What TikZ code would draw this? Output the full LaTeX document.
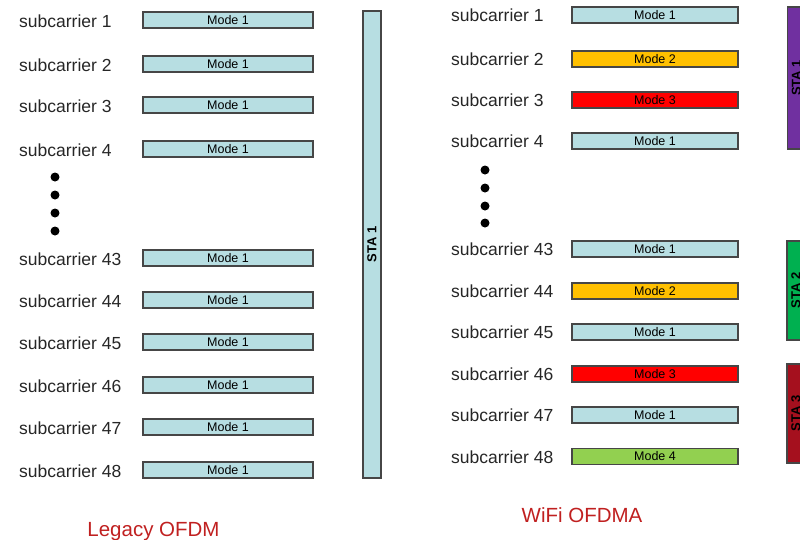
\documentclass[tikz,border=0pt]{standalone}
\usepackage{fontspec}
\setmainfont{Liberation Sans}
\definecolor{modeblue}{RGB}{183,222,226}
\definecolor{modeorange}{RGB}{255,192,0}
\definecolor{modered}{RGB}{255,0,0}
\definecolor{modegreen}{RGB}{146,208,80}
\definecolor{stapurple}{RGB}{112,48,160}
\definecolor{stagreen}{RGB}{0,176,80}
\definecolor{stadarkred}{RGB}{165,16,30}
\definecolor{captionred}{RGB}{192,32,32}
\definecolor{edgegrey}{RGB}{70,70,70}
\begin{document}
\begin{tikzpicture}[x=1pt,y=-1pt,
  sublabel/.style={anchor=base west,inner sep=0pt,font=\fontsize{17.5}{20}\selectfont,text=black!85},
  modebox/.style={draw=edgegrey,line width=1.2pt,rectangle,inner sep=0pt,
    minimum height=16pt,font=\fontsize{12.5}{14}\selectfont},
  stabar/.style={draw=edgegrey,line width=1.2pt,rectangle,inner sep=0pt,rotate=90,
    minimum height=18pt,font=\bfseries\fontsize{13}{15}\selectfont},
  dot/.style={circle,fill=black,inner sep=0pt,minimum size=9pt},
  caption/.style={anchor=base,inner sep=0pt,text=captionred,font=\fontsize{20.5}{24}\selectfont}]
\useasboundingbox (0,0) rectangle (800,539);
\clip (0,0) rectangle (800,539);

% Legacy OFDM: every subcarrier in mode 1
\foreach \n/\y in {1/20,2/64,3/105,4/149,43/258,44/300,45/342,46/385,47/427,48/470}{
  \node[sublabel] (ll\n) at (19,\y+7) {subcarrier \n};
  \node[modebox,fill=modeblue,minimum width=170pt] (lm\n) at (228,\y) {Mode 1};
}
\foreach \i/\y in {1/177,2/195,3/213,4/231}{
  \node[dot] (ld\i) at (55,\y) {};
}
\node[stabar,fill=modeblue,minimum width=467pt] (lsta) at (372,244.5) {STA 1};
\node[caption] (lcap) at (153.5,536.5) {Legacy OFDM};

% WiFi OFDMA: per-subcarrier modes
\foreach \n/\y/\c/\m in {1/15/modeblue/1,2/59/modeorange/2,3/100/modered/3,4/141/modeblue/1,
    43/249/modeblue/1,44/291/modeorange/2,45/332/modeblue/1,46/374/modered/3,
    47/415/modeblue/1,48/456.5/modegreen/4}{
  \node[sublabel] (rl\n) at (451,\y+6.5) {subcarrier \n};
  \node[modebox,fill=\c,minimum width=166pt] (rm\n) at (655,\y) {Mode \m};
}
\foreach \i/\y in {1/170,2/188,3/206,4/223}{
  \node[dot] (rd\i) at (485,\y) {};
}
\node[stabar,fill=stapurple,minimum width=142pt] (rsta1) at (796.5,78) {STA 1};
\node[stabar,fill=stagreen,minimum width=99pt] (rsta2) at (796,290.5) {STA 2};
\node[stabar,fill=stadarkred,minimum width=99pt] (rsta3) at (796,413.5) {STA 3};
\node[caption] (rcap) at (582,522.5) {WiFi OFDMA};
\end{tikzpicture}
\end{document}
